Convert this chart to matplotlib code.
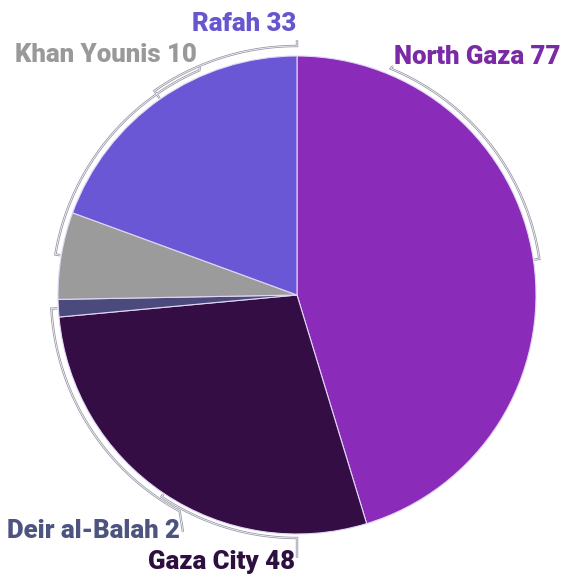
import numpy as np
import matplotlib
matplotlib.use("Agg")
import matplotlib.pyplot as plt

# ---- data ----
regions = ["North Gaza", "Gaza City", "Deir al-Balah", "Khan Younis", "Rafah"]
values = [77, 48, 2, 10, 33]
slice_colors = ["#8a2bb9", "#330d44", "#4a4a7c", "#9b9b9b", "#6a57d6"]
text_colors = ["#7b2aa6", "#2e1040", "#4e5480", "#999999", "#6656cf"]

W, H = 562, 574
fig = plt.figure(figsize=(W / 100, H / 100), dpi=100)
ax = fig.add_axes([0, 0, 1, 1])

cx, cy = 297, H - 295
R = 239

wedges, _ = ax.pie(values, colors=slice_colors, startangle=90, counterclock=False,
                   center=(cx, cy), radius=R, frame=True,
                   wedgeprops=dict(edgecolor="#e2d6f5", linewidth=0.8))
ax.set_xlim(0, W)
ax.set_ylim(0, H)
ax.set_aspect("equal")
ax.axis("off")


def pt(cw_deg, r):
    """point at clockwise-from-top angle"""
    a = np.deg2rad(cw_deg)
    return cx + r * np.sin(a), cy + r * np.cos(a)


def cw_from_std(deg):
    return (90 - deg) % 360


# mid angles (clockwise from top) derived from the wedges
mids = [cw_from_std((w.theta1 + w.theta2) / 2) for w in wedges]

LC = "#9a9aaa"


def leader(mid, r_arc, end_angle, end_pt):
    x0, y0 = pt(mid, R + 1)
    xs, ys = [x0], [y0]
    for a in np.linspace(mid, end_angle, 120):
        x, y = pt(a, r_arc)
        xs.append(x)
        ys.append(y)
    xs.append(end_pt[0])
    ys.append(end_pt[1])
    ax.plot(xs, ys, color=LC, lw=1.7, solid_capstyle="butt", solid_joinstyle="miter", zorder=3)
    ax.plot(xs, ys, color="white", lw=0.5, solid_capstyle="butt", zorder=4)


leader(mids[0], 245, 22.5, (393, H - 66))     # North Gaza
leader(mids[1], 243, 180, (297, H - 558))     # Gaza City
leader(mids[2], 246, 208.5, (183, H - 532))   # Deir al-Balah
leader(mids[3], 245, 336.5, (200, H - 67))    # Khan Younis
leader(mids[4], 249, 360, (297, H - 40))      # Rafah

fs = 18.5
fam = ["Roboto", "DejaVu Sans"]
labels = [f"{n} {v}" for n, v in zip(regions, values)]
kw = dict(fontsize=fs, fontweight="heavy", family=fam, va="center")
ax.text(394, H - 57, labels[0], color=text_colors[0], ha="left", **kw)
ax.text(295, H - 562, labels[1], color=text_colors[1], ha="right", **kw)
ax.text(180, H - 531, labels[2], color=text_colors[2], ha="right", **kw)
ax.text(197, H - 55, labels[3], color=text_colors[3], ha="right", **kw)
ax.text(296, H - 24, labels[4], color=text_colors[4], ha="right", **kw)

fig.savefig("out.png", dpi=100, facecolor="white")
